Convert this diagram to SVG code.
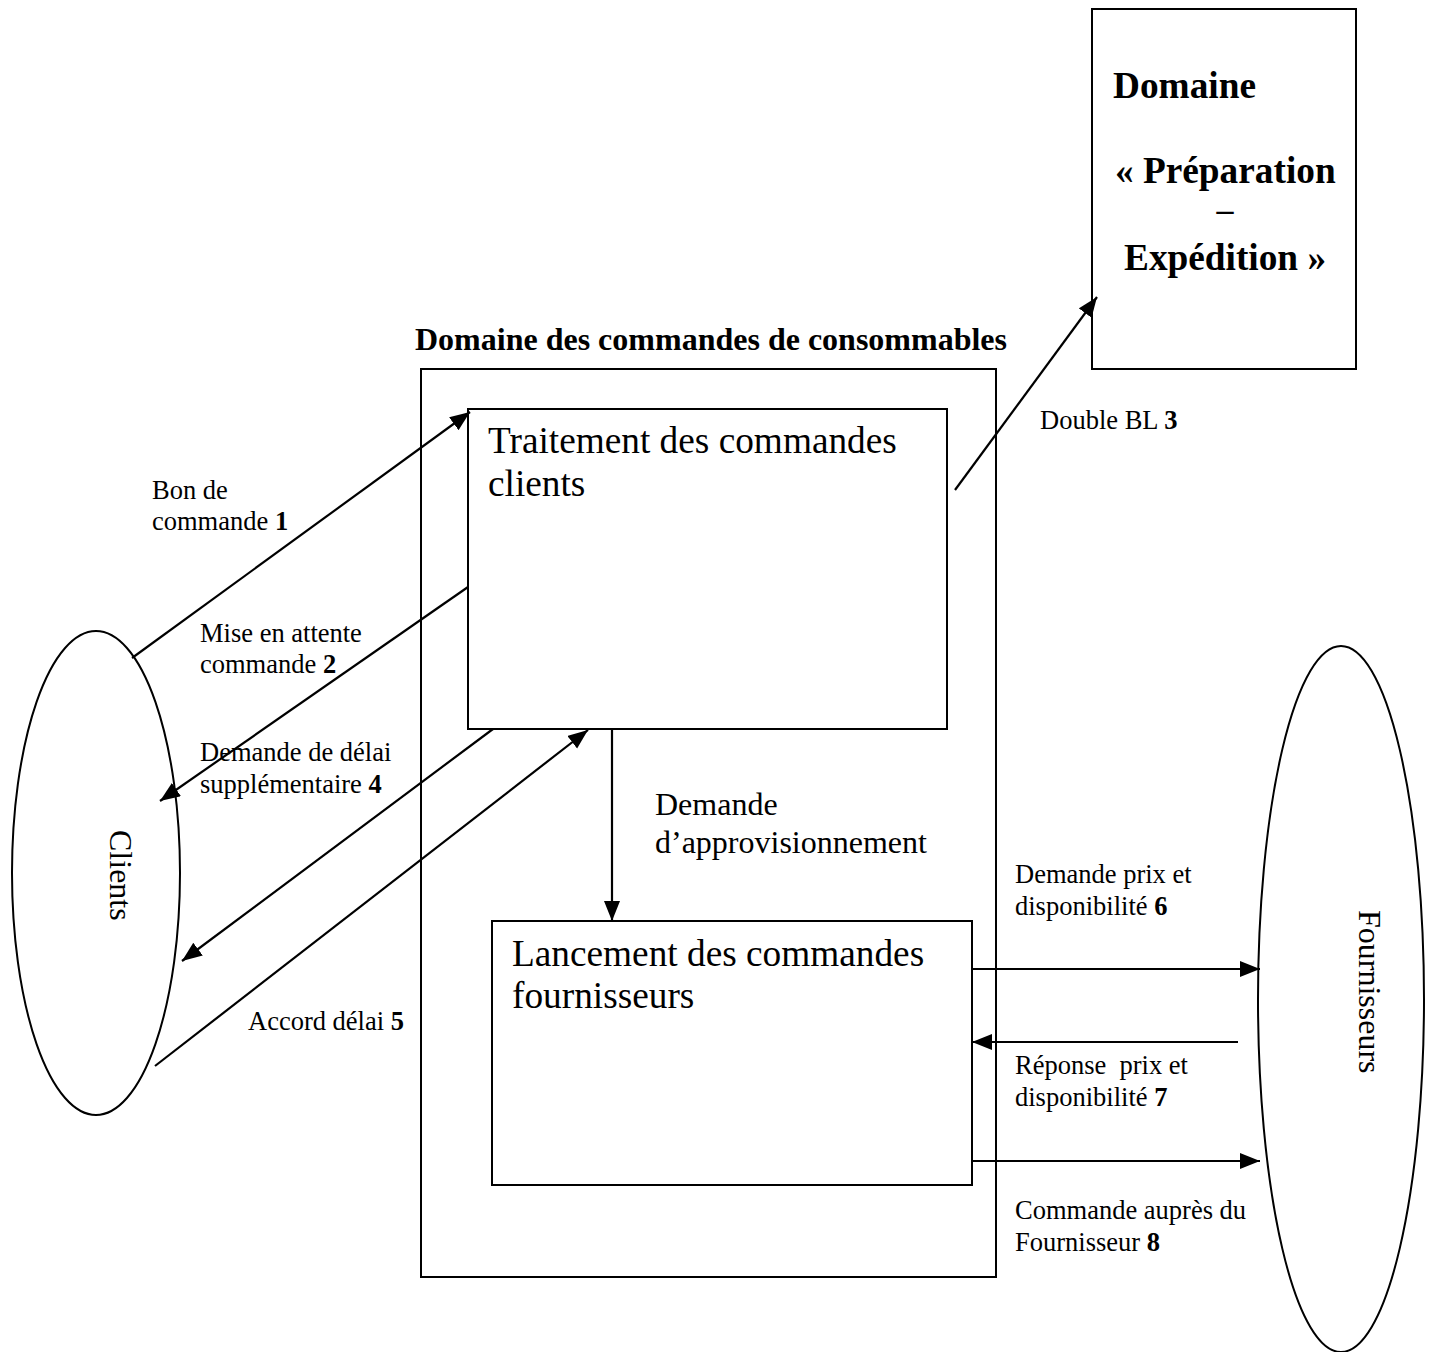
<svg xmlns="http://www.w3.org/2000/svg" width="1432" height="1352" viewBox="0 0 1432 1352">
<style>
.box{fill:none;stroke:#000;stroke-width:2}
.conn{fill:none;stroke:#000;stroke-width:2.2}
.t{font-family:"Liberation Serif","Times New Roman",serif;fill:#000}
.lbl{font-size:26.5px}
.big{font-size:37.3px}
.mid{font-size:32px}
.b{font-weight:bold}
</style>
<defs>
<marker id="ah" markerUnits="userSpaceOnUse" markerWidth="22" markerHeight="18" refX="20" refY="8" orient="auto">
<path d="M0,0 L20,8 L0,16 Z" fill="#000"/>
</marker>
</defs>
<rect width="1432" height="1352" fill="#fff"/>

<g id="domaine-commandes">
<rect class="box" x="421" y="369" width="575" height="908"/>
<text class="t mid b" x="415" y="350">Domaine des commandes de consommables</text>
</g>

<g id="traitement">
<rect class="box" x="468" y="409" width="479" height="320"/>
<text class="t big" x="488" y="453">Traitement des commandes</text>
<text class="t big" x="488" y="496">clients</text>
</g>

<g id="lancement">
<rect class="box" x="492" y="921" width="480" height="264"/>
<text class="t big" x="512" y="966">Lancement des commandes</text>
<text class="t big" x="512" y="1008">fournisseurs</text>
</g>

<g id="preparation">
<rect class="box" x="1092" y="9" width="264" height="360"/>
<text class="t big b" x="1113" y="98">Domaine</text>
<text class="t big b" x="1115" y="183">« Préparation</text>
<text class="t b" x="1225" y="221" text-anchor="middle" style="font-size:34px">–</text>
<text class="t big b" x="1124" y="270">Expédition »</text>
</g>

<g id="clients">
<ellipse class="box" cx="96" cy="873" rx="84" ry="242"/>
<text class="t mid" transform="translate(110,830) rotate(90)">Clients</text>
</g>

<g id="fournisseurs">
<ellipse class="box" cx="1341" cy="999" rx="83" ry="353"/>
<text class="t mid" transform="translate(1359,910) rotate(90)">Fournisseurs</text>
</g>

<g id="connectors">
<line class="conn" x1="132" y1="658" x2="470" y2="412" marker-end="url(#ah)"/>
<line class="conn" x1="468" y1="587" x2="160" y2="801" marker-end="url(#ah)"/>
<line class="conn" x1="955" y1="490" x2="1097" y2="297" marker-end="url(#ah)"/>
<line class="conn" x1="493" y1="729" x2="182" y2="961" marker-end="url(#ah)"/>
<line class="conn" x1="155" y1="1066" x2="588" y2="730" marker-end="url(#ah)"/>
<line class="conn" x1="612" y1="729" x2="612" y2="921" marker-end="url(#ah)"/>
<line class="conn" x1="972" y1="969" x2="1260" y2="969" marker-end="url(#ah)"/>
<line class="conn" x1="1238" y1="1042" x2="972" y2="1042" marker-end="url(#ah)"/>
<line class="conn" x1="972" y1="1161" x2="1260" y2="1161" marker-end="url(#ah)"/>
</g>

<g id="labels">
<text class="t lbl" x="152" y="499">Bon de</text>
<text class="t lbl" x="152" y="530">commande <tspan class="b">1</tspan></text>
<text class="t lbl" x="200" y="642">Mise en attente</text>
<text class="t lbl" x="200" y="673">commande <tspan class="b">2</tspan></text>
<text class="t lbl" x="200" y="761">Demande de délai</text>
<text class="t lbl" x="200" y="793">supplémentaire <tspan class="b">4</tspan></text>
<text class="t lbl" x="248" y="1030">Accord délai <tspan class="b">5</tspan></text>
<text class="t lbl" x="1040" y="429">Double BL <tspan class="b">3</tspan></text>
<text class="t mid" x="655" y="815">Demande</text>
<text class="t mid" x="655" y="853">d’approvisionnement</text>
<text class="t lbl" x="1015" y="883">Demande prix et</text>
<text class="t lbl" x="1015" y="915">disponibilité <tspan class="b">6</tspan></text>
<text class="t lbl" x="1015" y="1074" xml:space="preserve">Réponse  prix et</text>
<text class="t lbl" x="1015" y="1106">disponibilité <tspan class="b">7</tspan></text>
<text class="t lbl" x="1015" y="1219">Commande auprès du</text>
<text class="t lbl" x="1015" y="1251">Fournisseur <tspan class="b">8</tspan></text>
</g>
</svg>
